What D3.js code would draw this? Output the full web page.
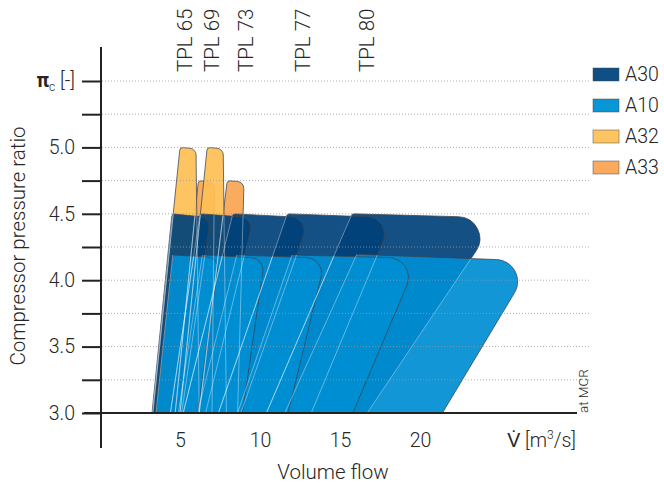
<!DOCTYPE html>
<html>
<head>
<meta charset="utf-8">
<script src="https://cdn.jsdelivr.net/npm/d3@7"></script>
<style>
body { margin: 0; background: #fff; }
text { font-family: Roboto, "Liberation Sans", sans-serif; font-weight: 300; fill: #262626; }
</style>
</head>
<body>
<div id="chart"></div>
<script>
// turbocharger models and where their names sit (volume flow)
var models = ["TPL 65", "TPL 69", "TPL 73", "TPL 77", "TPL 80"];
var modelLabelFlow = [5.3, 7.0, 9.1, 12.7, 16.7];

var flowTicks = [5, 10, 15, 20];
var ratioTicks = [3, 3.25, 3.5, 3.75, 4, 4.25, 4.5, 4.75, 5, 5.25, 5.5];
var ratioLabels = [3, 3.5, 4, 4.5, 5];

var seriesNames = ["A30", "A10", "A32", "A33"];

// envelope rows: [flow at 3.0 (surge side), top-left flow, top-left ratio,
//                 top-right flow, top-right ratio, flow at 3.0 (choke side)]
// one row per model, TPL 65 first
var a30 = [
    [3.25, 4.5, 4.5, 6.9, 4.47, 5.1],
    [4.4, 6.25, 4.5, 9.6, 4.47, 6.6],
    [5.2, 8.3, 4.5, 13.1, 4.47, 8.8],
    [7.4, 11.7, 4.5, 18.3, 4.47, 13.2],
    [10.4, 15.75, 4.5, 24.9, 4.47, 16.7]
];
var a10 = [
    [3.5, 4.55, 4.19, 7.45, 4.17, 6.1],
    [4.9, 6.4, 4.19, 10.3, 4.165, 8.9],
    [6.1, 8.55, 4.19, 14.1, 4.165, 11.75],
    [8.6, 12.0, 4.19, 19.9, 4.165, 15.8],
    [11.55, 16.05, 4.195, 27.1, 4.145, 21.4]
];
// only TPL 65 and TPL 69
var a32 = [
    [3.3, 5.0, 5.0, 6.0, 4.99, 6.2],
    [5.0, 6.7, 5.0, 7.7, 4.99, 7.9]
];
var a33 = [
    [4.7, 6.15, 4.75, 7.15, 4.74, 7.0],
    [6.2, 7.95, 4.75, 9.0, 4.74, 8.6]
];

var seriesColor = { A30: "#0e4f85", A10: "#0896d6", A32: "#fec462", A33: "#f9aa5e" };

var svgWidth = 664;
var svgHeight = 484;

var svg = d3.select("#chart")
    .append("svg")
    .attr("width", svgWidth)
    .attr("height", svgHeight);

var x = d3.scaleLinear().domain([0, 25]).range([100, 500]);
var y = d3.scaleLinear().domain([3, 5.5]).range([413, 81]);

function corners(row) {
    return {
        bl: [x(row[0]), y(3)],
        tl: [x(row[1]), y(row[2])],
        tr: [x(row[3]), y(row[4])],
        br: [x(row[5]), y(3)]
    };
}

function radius(c) {
    return Math.min(22, 5 + 0.12 * (c.tr[0] - c.tl[0]));
}

function shapePath(row) {
    var c = corners(row);
    var p = d3.path();
    p.moveTo(c.bl[0], c.bl[1]);
    p.arcTo(c.tl[0], c.tl[1], c.tr[0], c.tr[1], 3);
    p.arcTo(c.tr[0], c.tr[1], c.br[0], c.br[1], radius(c));
    p.lineTo(c.br[0], c.br[1]);
    p.closePath();
    return p.toString();
}

function leftEdge(row) {
    var c = corners(row);
    return d3.line()([c.bl, c.tl]);
}

// layers back to front, fill colours chosen so the opacity gives the legend colour over white
var layers = [
    { name: "A33", rows: a33, fill: "#f9a656", opacity: 0.95 },
    { name: "A32", rows: a32, fill: "#febf55", opacity: 0.92 },
    { name: "A30", rows: a30, fill: "#00417a", opacity: 0.92 },
    { name: "A10", rows: a10, fill: "#008ed3", opacity: 0.93 }
];

var defs = svg.append("defs");
var clipBlue = defs.append("clipPath").attr("id", "clipBlue");
a30.concat(a10).forEach(function(r) { clipBlue.append("path").attr("d", shapePath(r)); });
var clipA10 = defs.append("clipPath").attr("id", "clipA10");
a10.forEach(function(r) { clipA10.append("path").attr("d", shapePath(r)); });

var shapes = svg.append("g");
layers.forEach(function(layer) {
    layer.rows.slice().reverse().forEach(function(r) {
        shapes.append("path")
            .attr("d", shapePath(r))
            .attr("fill", layer.fill)
            .attr("fill-opacity", layer.opacity)
            .attr("stroke", "#3b4550")
            .attr("stroke-opacity", 0.85)
            .attr("stroke-width", 0.9);
    });
});

// light edges where outlines run inside other envelopes
var light = svg.append("g")
    .attr("fill", "none")
    .attr("stroke", "#fff")
    .attr("stroke-opacity", 0.38)
    .attr("stroke-width", 1);

a32.concat(a33).forEach(function(r) {
    light.append("path").attr("d", shapePath(r)).attr("clip-path", "url(#clipBlue)");
});
a30.forEach(function(r) {
    light.append("path").attr("d", shapePath(r)).attr("clip-path", "url(#clipA10)");
});
a30.concat(a10, a32, a33).forEach(function(r) {
    light.append("path").attr("d", leftEdge(r)).attr("clip-path", "url(#clipBlue)");
});

// dotted grid on top
svg.append("g")
    .selectAll("line")
    .data(ratioTicks.filter(function(d) { return d > 3; }))
    .enter()
    .append("line")
    .attr("x1", 102)
    .attr("x2", 590)
    .attr("y1", function(d) { return y(d); })
    .attr("y2", function(d) { return y(d); })
    .attr("stroke", "#9a9a9a")
    .attr("stroke-opacity", 0.8)
    .attr("stroke-width", 1)
    .attr("stroke-dasharray", "1,2");

// y axis
var yAxis = d3.axisLeft(y)
    .tickValues(ratioTicks)
    .tickSize(19)
    .tickPadding(7)
    .tickFormat(function(d) { return ratioLabels.indexOf(d) >= 0 ? d3.format(".1f")(d) : ""; });

var yG = svg.append("g")
    .attr("transform", "translate(101,0)")
    .call(yAxis);
yG.select(".domain").remove();
yG.selectAll(".tick line").attr("stroke", "#222").attr("stroke-width", 2);
yG.selectAll(".tick text").style("font-size", "19.5px");

svg.append("line")
    .attr("x1", 101).attr("x2", 101)
    .attr("y1", 47).attr("y2", 448)
    .attr("stroke", "#222").attr("stroke-width", 2);

var piLabel = svg.append("text")
    .attr("x", 75)
    .attr("y", y(5.5))
    .attr("dy", "0.32em")
    .attr("text-anchor", "end")
    .style("font-size", "19.5px");
piLabel.append("tspan").style("font-weight", "700").text("π");
piLabel.append("tspan").style("font-size", "12px").attr("dy", 4).text("c");
piLabel.append("tspan").attr("dy", -4).text(" [-]");

// x axis
var xAxis = d3.axisBottom(x)
    .tickValues(flowTicks)
    .tickSize(0)
    .tickPadding(20);

var xG = svg.append("g")
    .attr("transform", "translate(0,413)")
    .call(xAxis);
xG.select(".domain").remove();
xG.selectAll(".tick text").style("font-size", "19.5px");

svg.append("line")
    .attr("x1", 84).attr("x2", 577)
    .attr("y1", 413).attr("y2", 413)
    .attr("stroke", "#222").attr("stroke-width", 2);

var vLabel = svg.append("text")
    .attr("x", 576)
    .attr("y", 447)
    .attr("text-anchor", "end")
    .style("font-size", "19.5px");
vLabel.append("tspan").text("V\u0307 [m");
vLabel.append("tspan").style("font-size", "12px").attr("dy", -8).text("3");
vLabel.append("tspan").attr("dy", 8).text("/s]");

svg.append("text")
    .attr("transform", "translate(588,413) rotate(-90)")
    .style("font-size", "13.5px")
    .text("at MCR");

svg.append("text")
    .attr("x", 333)
    .attr("y", 479)
    .attr("text-anchor", "middle")
    .style("font-size", "20.5px")
    .text("Volume flow");

svg.append("text")
    .attr("transform", "translate(25,246) rotate(-90)")
    .attr("text-anchor", "middle")
    .style("font-size", "20.5px")
    .text("Compressor pressure ratio");

// model names
svg.append("g")
    .selectAll("text")
    .data(models)
    .enter()
    .append("text")
    .attr("transform", function(d, i) { return "translate(" + x(modelLabelFlow[i]) + ",72) rotate(-90)"; })
    .attr("dy", "0.35em")
    .style("font-size", "20.5px")
    .text(function(d) { return d; });

// legend
var legend = svg.append("g")
    .selectAll("g")
    .data(seriesNames)
    .enter()
    .append("g")
    .attr("transform", function(d, i) { return "translate(593," + (68 + i * 31) + ")"; });

legend.append("rect")
    .attr("width", 26)
    .attr("height", 13)
    .attr("fill", function(d) { return seriesColor[d]; })
    .attr("stroke", "#4a4a4a")
    .attr("stroke-opacity", 0.6)
    .attr("stroke-width", 0.8);

legend.append("text")
    .attr("x", 32)
    .attr("y", 13)
    .style("font-size", "19.5px")
    .text(function(d) { return d; });
</script>
</body>
</html>
